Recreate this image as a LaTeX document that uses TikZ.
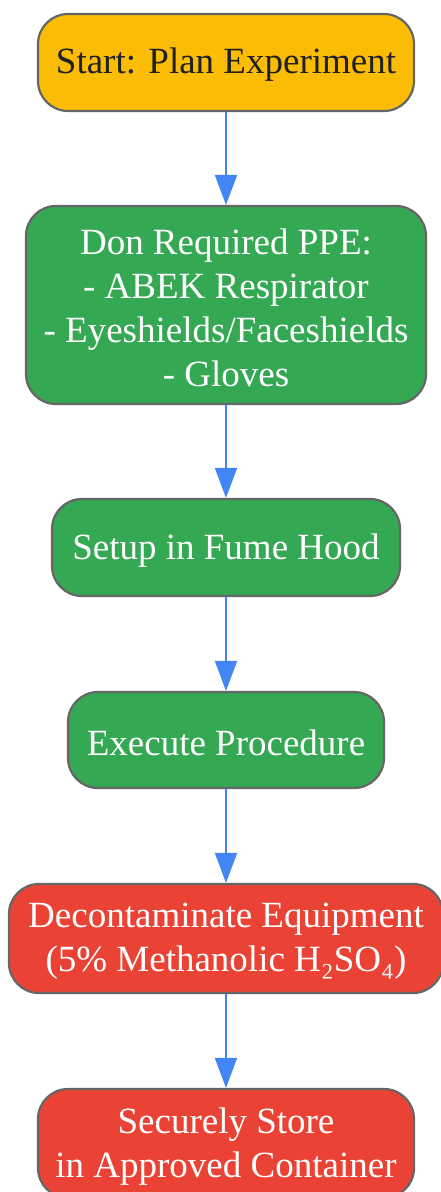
\documentclass[tikz,border=0pt]{standalone}
\usepackage{fontspec}
\setmainfont{Liberation Serif}
\usetikzlibrary{arrows.meta}
\definecolor{yel}{HTML}{FBBC05}
\definecolor{grn}{HTML}{34A853}
\definecolor{rd}{HTML}{EA4335}
\definecolor{edge}{HTML}{666666}
\definecolor{blu}{HTML}{4285F4}
\definecolor{dark}{HTML}{202124}
\tikzset{
  box/.style={draw=edge, line width=2.2pt, rounded corners=30pt, inner sep=0pt},
  txt/.style={align=center, inner sep=0pt, font=\fontsize{37}{44}\selectfont, text=white},
  conn/.style={draw=blu, line width=2pt, -{Triangle[length=30pt,width=22pt]}}
}
\begin{document}
\begin{tikzpicture}[x=1pt,y=1pt]
\useasboundingbox (0,0) rectangle (441,-1192);
\node[box, fill=yel, minimum width=376pt, minimum height=97pt] (n1) at (226,-62.5) {};
\node[box, fill=grn, minimum width=400pt, minimum height=198pt] (n2) at (226,-305) {};
\node[box, fill=grn, minimum width=348pt, minimum height=97pt] (n3) at (226,-547.5) {};
\node[box, fill=grn, minimum width=316pt, minimum height=96pt] (n4) at (226,-740) {};
\node[box, fill=rd, minimum width=434pt, minimum height=109pt] (n5) at (226,-938.5) {};
\node[box, fill=rd, minimum width=376pt, minimum height=109pt] (n6) at (226,-1143.5) {};
\node[txt, text=dark] (t1) at (226,-65) {Start: Plan Experiment};
\node[txt] (t2) at (226,-308) {Don Required PPE:\\- ABEK Respirator\\- Eyeshields/Faceshields\\- Gloves};
\node[txt] (t3) at (226,-550.5) {Setup in Fume Hood};
\node[txt] (t4) at (226,-743) {Execute Procedure};
\node[txt] (t5) at (226,-941) {Decontaminate Equipment\\(5\% Methanolic H₂SO₄)};
\node[txt] (t6) at (226,-1146.5) {Securely Store\\in Approved Container};
\draw[conn] (n1) -- (n2);
\draw[conn] (n2) -- (n3);
\draw[conn] (n3) -- (n4);
\draw[conn] (n4) -- (n5);
\draw[conn] (n5) -- (n6);
\end{tikzpicture}
\end{document}
